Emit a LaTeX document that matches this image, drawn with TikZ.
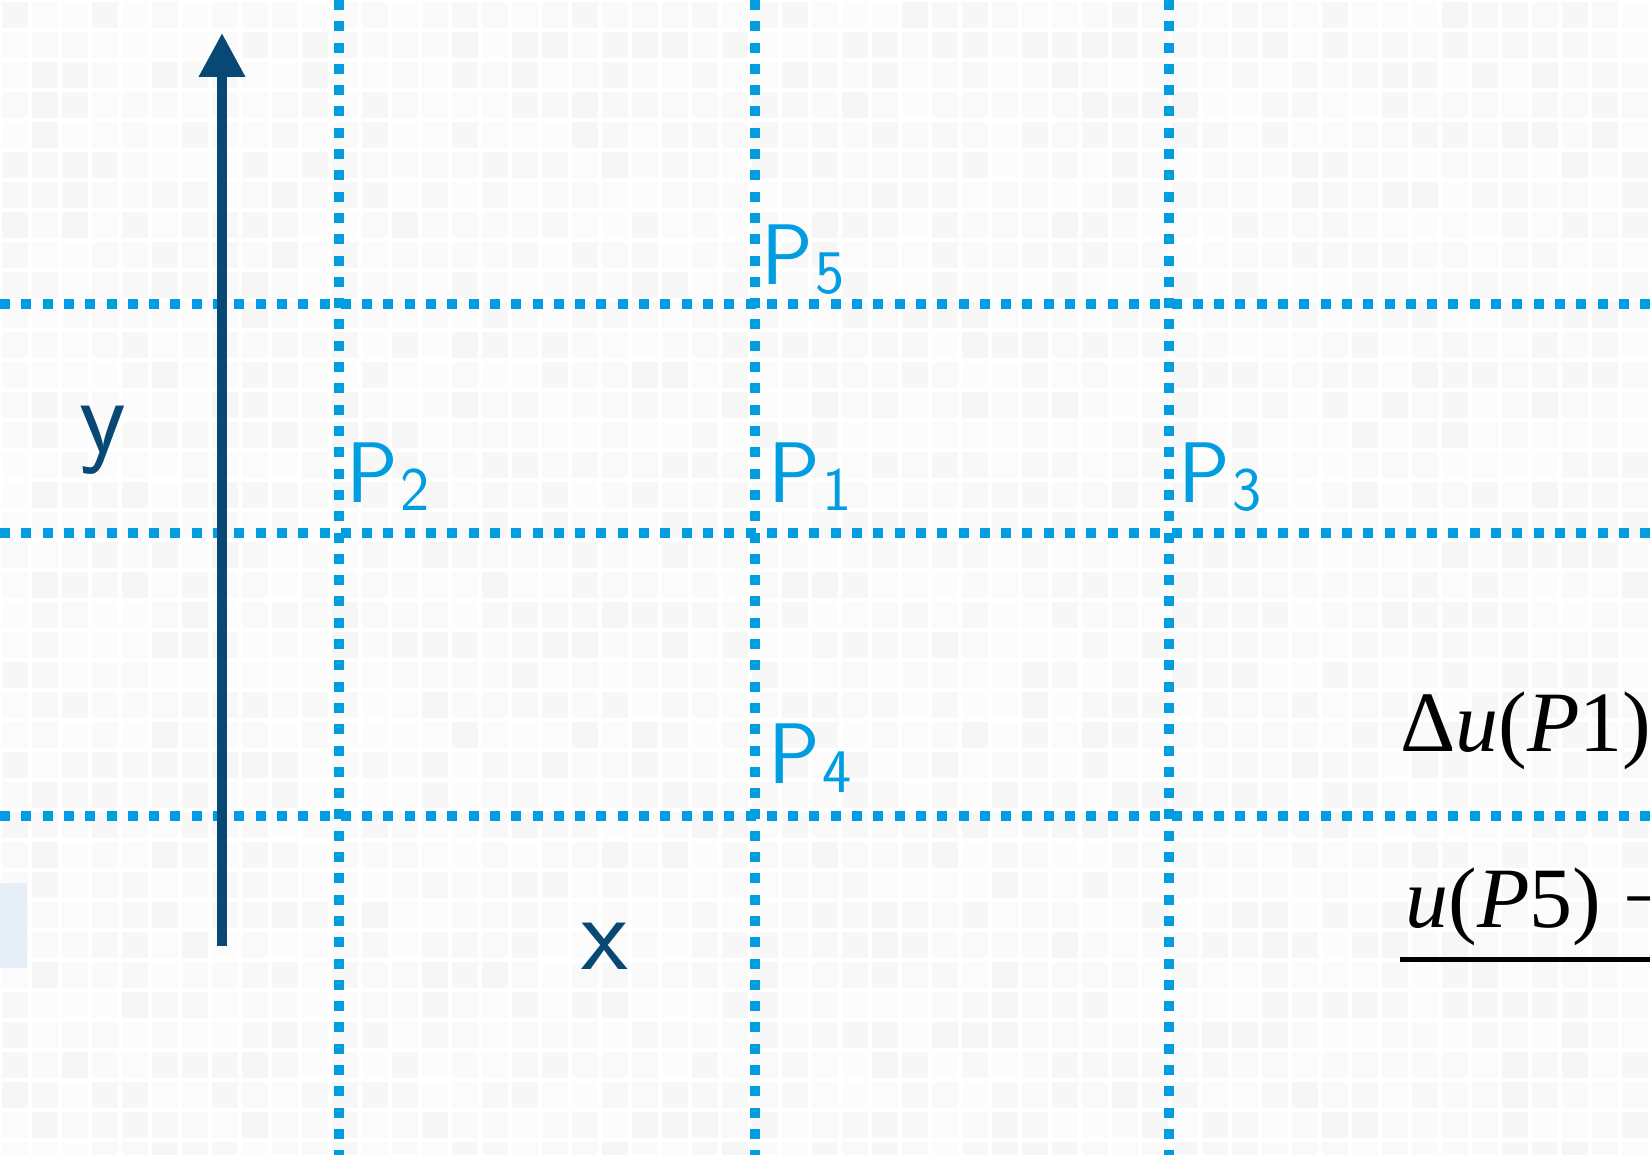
\documentclass[tikz,border=0pt]{standalone}
\usepackage{fontspec}
\newfontfamily\tnr{Liberation Serif}
\usetikzlibrary{arrows.meta}
\definecolor{dotblue}{RGB}{0,158,224}
\definecolor{axisblue}{RGB}{8,72,117}
\definecolor{tint}{RGB}{230,238,247}
\newcommand\plab[1]{P\hspace{1pt}\raisebox{-4.5pt}{\fontsize{31}{31}\selectfont #1}}
\begin{document}
\begin{tikzpicture}[x=0.5pt,y=-0.5pt,
  dotline/.style={dotblue, line width=5pt, dash pattern=on 5pt off 5.65pt},
  plabel/.style={anchor=base west, inner sep=0pt, text=dotblue, font=\sffamily\fontsize{43}{43}\selectfont},
  axlabel/.style={anchor=base west, inner sep=0pt, text=axisblue, font=\sffamily\fontsize{54}{54}\selectfont},
  formula/.style={anchor=base west, inner sep=0pt, text=black, font=\tnr\fontsize{43}{43}\selectfont},
  axisarrow/.style={axisblue, line width=5pt, -{Triangle[length=22pt,width=22pt]}}]
\useasboundingbox (0,0) rectangle (1650,1155);
\clip (0,0) rectangle (1650,1155);
% background mosaic
\fill[white] (0,0) rectangle (1650,1155);
\pgfmathsetseed{7}
\foreach \i in {0,...,55}{
  \foreach \j in {0,...,38}{
    \pgfmathsetmacro\s{1+2.6*rnd}
    \fill[black!\s] (\i*30+2,\j*30+2) rectangle ++(26,26);
  }
}
\fill[tint] (0,883) rectangle (27,968);
% grid coordinates
\coordinate (v1t) at (339,0);    \coordinate (v1b) at (339,1155);
\coordinate (v2t) at (755,0);    \coordinate (v2b) at (755,1155);
\coordinate (v3t) at (1169,0);   \coordinate (v3b) at (1169,1155);
\coordinate (h1l) at (0,304);    \coordinate (h1r) at (1650,304);
\coordinate (h2l) at (0,533);    \coordinate (h2r) at (1650,533);
\coordinate (h3l) at (0,816);    \coordinate (h3r) at (1650,816);
\draw[dotline] (v1t) -- (v1b);
\draw[dotline] (v2t) -- (v2b);
\draw[dotline] (v3t) -- (v3b);
\draw[dotline] (h1l) -- (h1r);
\draw[dotline] (h2l) -- (h2r);
\draw[dotline] (h3l) -- (h3r);
% axis arrow
\coordinate (abot) at (222,946);
\coordinate (atop) at (222,33);
\draw[axisarrow] (abot) -- (atop);
% labels
\node[axlabel] (ylab) at (79,452) {y};
\node[axlabel] (xlab) at (581,969) {x};
\node[plabel] (p5) at (761,285) {\plab{5}};
\node[plabel] (p2) at (346,502) {\plab{2}};
\node[plabel] (p1) at (768,502) {\plab{1}};
\node[plabel] (p3) at (1178,502) {\plab{3}};
\node[plabel] (p4) at (768,783) {\plab{4}};
% formula
\node[formula] (num) at (1400,751) {Δ\textit{u}(\textit{P}1)};
\node[formula] (den) at (1405,927) {\textit{u}(\textit{P}5)\hspace{11pt}−};
\coordinate (rl) at (1400,959);
\coordinate (rr) at (1650,959);
\draw[line width=2.5pt] (rl) -- (rr);
\end{tikzpicture}
\end{document}
